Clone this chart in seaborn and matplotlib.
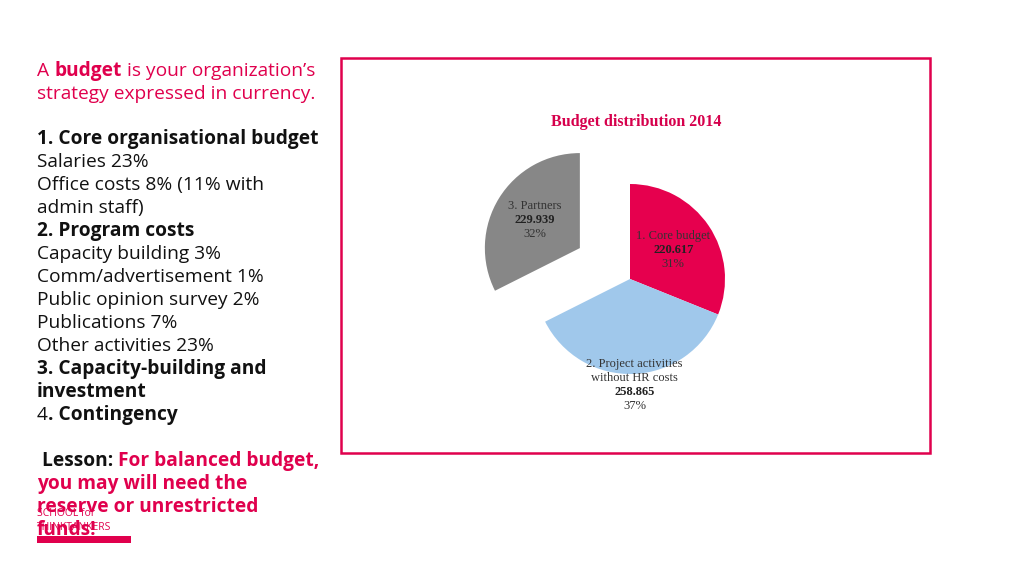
import numpy as np
import matplotlib
matplotlib.use("Agg")
import matplotlib.pyplot as plt
import seaborn as sns

categories = ["1. Core budget", "2. Project activities\nwithout HR costs", "3. Partners"]
values = [220.617, 258.865, 229.939]
value_labels = ["220.617", "258.865", "229.939"]
pct_labels = ["31%", "37%", "32%"]
colors = ["#E6004E", "#A0C8EB", "#878787"]
explode = [0, 0, 0.62]
label_dist = [0.55, 1.12, 0.56]

sns.set_theme(style="white")
plt.rcParams['font.family'] = ['Open Sans', 'DejaVu Sans']
RED = "#E0004D"

W, H = 1024, 575
fig = plt.figure(figsize=(W/100, H/100), dpi=100)

def px(x, y):
    return x / W, 1 - y / H

fig.patches.append(plt.Rectangle(px(341, 453), 589/W, 395/H, transform=fig.transFigure,
                                 fill=False, edgecolor=RED, linewidth=1.8))

R = 95
cx, cy = 630, 279
ax = fig.add_axes([(cx - 2*R)/W, (H - cy - 2*R)/H, 4*R/W, 4*R/H])
wedges, _ = ax.pie(values, colors=colors, startangle=90, counterclock=False,
                   explode=explode, radius=1, wedgeprops=dict(linewidth=0))
ax.set_xlim(-2, 2); ax.set_ylim(-2, 2); ax.axis('off')
serif = ['Liberation Serif', 'DejaVu Serif']
for w, cat, v, p, ex, ld in zip(wedges, categories, value_labels, pct_labels, explode, label_dist):
    ang = np.deg2rad((w.theta1 + w.theta2) / 2)
    ox, oy = ex*np.cos(ang), ex*np.sin(ang)
    x, y = ox + ld*np.cos(ang), oy + ld*np.sin(ang)
    nl = cat.count("\n") + 1
    step = 0.147
    top = y + step*(nl + 2 - 1)/2
    for i, line in enumerate(cat.split("\n")):
        ax.text(x, top - i*step, line, ha='center', va='center', fontsize=9, family=serif, color='#333333')
    ax.text(x, top - nl*step, v, ha='center', va='center', fontsize=9, family=serif, weight='bold', color='#222222')
    ax.text(x, top - (nl+1)*step, p, ha='center', va='center', fontsize=9, family=serif, color='#333333')

fig.text(*px(636, 122), "Budget distribution 2014", ha='center', va='center', fontsize=11.5,
         family=serif, weight='bold', color="#D6004C")

renderer = fig.canvas.get_renderer()
def line(y, parts, fs=13.8):
    x = 37
    for s, bold, col in parts:
        t = fig.text(*px(x, y), s, ha='left', va='center', fontsize=fs,
                     weight='bold' if bold else 'normal', color=col)
        bb = t.get_window_extent(renderer)
        x += bb.width
K = "#111111"
lines = [
    (71, [("A ", False, RED), ("budget", True, RED), (" is your organization\u2019s", False, RED)]),
    (94, [("strategy expressed in currency.", False, RED)]),
    (139, [("1. Core organisational budget", True, K)]),
    (162, [("Salaries 23%", False, K)]),
    (185, [("Office costs 8% (11% with", False, K)]),
    (208, [("admin staff)", False, K)]),
    (231, [("2. Program costs", True, K)]),
    (254, [("Capacity building 3%", False, K)]),
    (277, [("Comm/advertisement 1%", False, K)]),
    (300, [("Public opinion survey 2%", False, K)]),
    (323, [("Publications 7%", False, K)]),
    (346, [("Other activities 23%", False, K)]),
    (369, [("3. Capacity-building and", True, K)]),
    (392, [("investment", True, K)]),
    (415, [("4", False, K), (". Contingency", True, K)]),
    (461, [(" Lesson: ", True, K), ("For balanced budget,", True, RED)]),
    (484, [("you may will need the", True, RED)]),
    (507, [("reserve or unrestricted", True, RED)]),
    (530, [("funds!", True, RED)]),
]
for y, parts in lines:
    line(y, parts)

fig.text(*px(37, 513), "SCHOOL for", fontsize=7.5, color=RED, va='center')
fig.text(*px(37, 527), "THINKTANKERS", fontsize=7.5, color=RED, va='center')
fig.patches.append(plt.Rectangle(px(37, 543), 94/W, 7/H, transform=fig.transFigure,
                                 color=RED, linewidth=0))

fig.savefig("out.png", dpi=100)
